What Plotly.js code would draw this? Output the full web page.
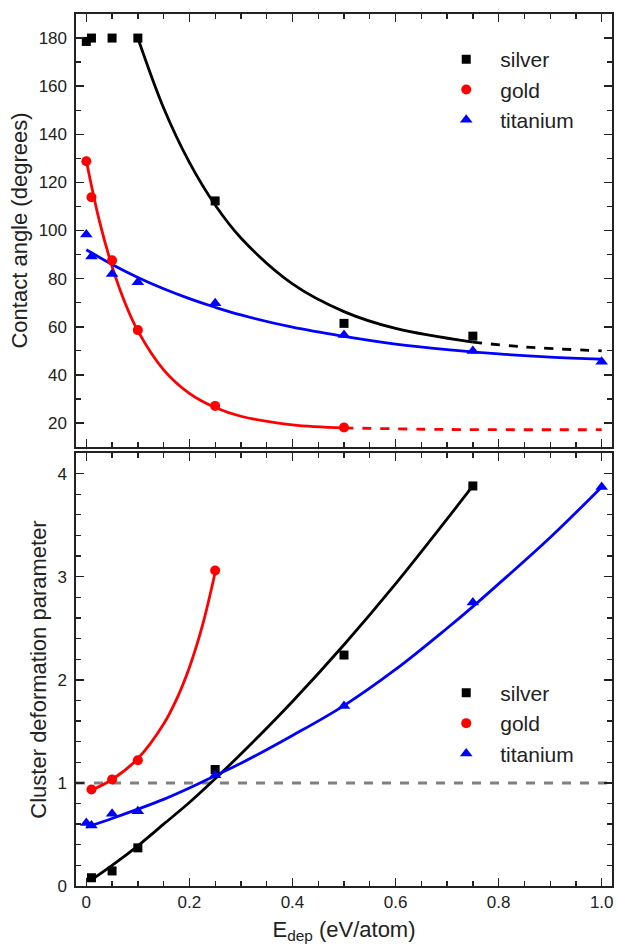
<!DOCTYPE html>
<html>
<head>
<meta charset="utf-8">
<script src="https://cdn.plot.ly/plotly-3.0.1.min.js"></script>
<style>html,body{margin:0;padding:0;background:#fff;}#chart{width:617px;height:952px;}</style>
</head>
<body>
<div id="chart"></div>
<script>
// ---------- Top panel: contact angle ----------
const edepAg = [0, 0.01, 0.05, 0.1, 0.25, 0.5, 0.75];
const angleAg = [178.6, 180, 180, 180, 112.3, 61.4, 56.1];
const edepAu = [0, 0.01, 0.05, 0.1, 0.25, 0.5];
const angleAu = [128.8, 113.8, 87.6, 58.6, 27.1, 18.1];
const edepTi = [0, 0.01, 0.05, 0.1, 0.25, 0.5, 0.75, 1.0];
const angleTi = [98.3, 89.2, 81.9, 78.5, 69.8, 56.6, 49.9, 45.4];

// fit curves
const fitAgX = [0.1, 0.15, 0.2, 0.25, 0.3, 0.4, 0.5, 0.6, 0.75];
const fitAgY = [180, 150.9, 128.3, 110.6, 96.9, 77.8, 66.3, 59.3, 53.6];
const fitAgDashX = [0.75, 0.85, 1.0];
const fitAgDashY = [53.6, 51.6, 50.0];
const fitAuX = [0, 0.025, 0.05, 0.075, 0.1, 0.15, 0.2, 0.25, 0.3, 0.4, 0.5];
const fitAuY = [129, 104.3, 85.1, 70.0, 58.3, 42.1, 32.3, 26.4, 22.8, 19.2, 17.95];
const fitAuDashX = [0.5, 0.7, 1.0];
const fitAuDashY = [17.95, 17.3, 17.2];
const fitTiX = [0, 0.05, 0.1, 0.15, 0.2, 0.25, 0.3, 0.4, 0.5, 0.6, 0.7, 0.8, 0.9, 1.0];
const fitTiY = [92, 85.9, 80.5, 75.8, 71.7, 68.1, 64.9, 59.8, 56.0, 52.8, 50.5, 48.7, 47.4, 46.5];

// ---------- Bottom panel: cluster deformation parameter ----------
const defAgX = [0.01, 0.05, 0.1, 0.25, 0.5, 0.75];
const defAgY = [0.08, 0.146, 0.37, 1.13, 2.24, 3.88];
const defAuX = [0.01, 0.05, 0.1, 0.25];
const defAuY = [0.936, 1.033, 1.22, 3.06];
const defTiX = [0, 0.01, 0.05, 0.1, 0.25, 0.5, 0.75, 1.0];
const defTiY = [0.61, 0.586, 0.70, 0.725, 1.075, 1.745, 2.75, 3.87];

const fitDefAgX = [0.01, 0.05, 0.1, 0.15, 0.2, 0.25, 0.3, 0.4, 0.5, 0.6, 0.75];
const fitDefAgY = [0.06, 0.2, 0.39, 0.6, 0.81, 1.04, 1.28, 1.79, 2.34, 2.93, 3.88];
const fitDefAuX = [0.01, 0.05, 0.1, 0.15, 0.175, 0.2, 0.225, 0.25];
const fitDefAuY = [0.93, 1.033, 1.236, 1.571, 1.81, 2.12, 2.52, 3.04];
const fitDefTiX = [0, 0.05, 0.1, 0.15, 0.2, 0.25, 0.3, 0.4, 0.5, 0.6, 0.7, 0.75, 0.8, 0.9, 1.0];
const fitDefTiY = [0.57, 0.655, 0.745, 0.84, 0.95, 1.07, 1.19, 1.46, 1.75, 2.1, 2.5, 2.71, 2.93, 3.38, 3.87];

const refX = [-0.02, 1.02];
const refY = [1, 1];

const names = ['silver', 'gold', 'titanium'];
const colors = ['#000000', '#ff0000', '#0000ff'];
const symbols = ['square', 'circle', 'triangle-up'];
const sizes = [9, 10, 11];
const xTickVals = [0, 0.2, 0.4, 0.6, 0.8, 1.0];
const xTickText = ['0', '0.2', '0.4', '0.6', '0.8', '1.0'];

function pts(x, y, i, xa, ya, leg) {
  return {x: x, y: y, xaxis: xa, yaxis: ya, type: 'scatter', mode: 'markers', name: names[i],
    legend: leg, marker: {color: colors[i], symbol: symbols[i], size: sizes[i]}};
}
function fit(x, y, i, xa, ya, dash) {
  return {x: x, y: y, xaxis: xa, yaxis: ya, type: 'scatter', mode: 'lines', showlegend: false,
    hoverinfo: 'skip', line: {color: colors[i], width: 2.8, shape: 'spline', dash: dash || 'solid'}};
}

const traces = [
  fit(fitAgX, fitAgY, 0, 'x', 'y'), fit(fitAgDashX, fitAgDashY, 0, 'x', 'y', 'dash'),
  fit(fitAuX, fitAuY, 1, 'x', 'y'), fit(fitAuDashX, fitAuDashY, 1, 'x', 'y', 'dash'),
  fit(fitTiX, fitTiY, 2, 'x', 'y'),
  pts(edepAg, angleAg, 0, 'x', 'y', 'legend'),
  pts(edepAu, angleAu, 1, 'x', 'y', 'legend'),
  pts(edepTi, angleTi, 2, 'x', 'y', 'legend'),
  {x: refX, y: refY, xaxis: 'x2', yaxis: 'y2', type: 'scatter', mode: 'lines', showlegend: false,
    line: {color: '#808080', width: 3, dash: 'dash'}},
  fit(fitDefAgX, fitDefAgY, 0, 'x2', 'y2'),
  fit(fitDefAuX, fitDefAuY, 1, 'x2', 'y2'),
  fit(fitDefTiX, fitDefTiY, 2, 'x2', 'y2'),
  pts(defAgX, defAgY, 0, 'x2', 'y2', 'legend2'),
  pts(defAuX, defAuY, 1, 'x2', 'y2', 'legend2'),
  pts(defTiX, defTiY, 2, 'x2', 'y2', 'legend2')
];

const font = 'Arial, "Liberation Sans", sans-serif';
const axCommon = {
  showline: true, linecolor: '#222', linewidth: 1.6, mirror: 'allticks',
  ticks: 'inside', ticklen: 8, tickwidth: 1.5, tickcolor: '#222',
  showgrid: false, zeroline: false,
  tickfont: {family: font, size: 17, color: '#222'}
};
const xCommon = Object.assign({}, axCommon, {
  range: [-0.02, 1.02], tickvals: xTickVals, ticktext: xTickText,
  minor: {dtick: 0.05, tick0: 0, ticks: 'inside', ticklen: 5, tickwidth: 1.3, tickcolor: '#222', showgrid: false}
});

const legendCommon = {xanchor: 'left', yanchor: 'top', bgcolor: 'rgba(0,0,0,0)',
  font: {family: font, size: 21, color: '#222'}, itemwidth: 58};

const layout = {
  width: 617, height: 952,
  margin: {l: 76, r: 5, t: 14, b: 66},
  paper_bgcolor: '#fff', plot_bgcolor: '#fff',
  font: {family: font, color: '#222'},
  showlegend: true,
  xaxis: Object.assign({}, xCommon, {anchor: 'y', showticklabels: false}),
  yaxis: Object.assign({}, axCommon, {
    domain: [0.5034, 1], anchor: 'x', range: [10, 190], tick0: 0, dtick: 20,
    ticklabelstandoff: 4,
    minor: {dtick: 10, tick0: 0, ticks: 'inside', ticklen: 5, tickwidth: 1.3, tickcolor: '#222', showgrid: false},
    title: {text: 'Contact angle (degrees)', font: {family: font, size: 22, color: '#222'}, standoff: 5}
  }),
  xaxis2: Object.assign({}, xCommon, {anchor: 'y2',
    title: {text: 'E<sub>dep</sub> (eV/atom)', font: {family: font, size: 22, color: '#222'}, standoff: 10}
  }),
  yaxis2: Object.assign({}, axCommon, {
    domain: [0, 0.4966], anchor: 'x2', range: [0, 4.2], tick0: 0, dtick: 1,
    ticklabelstandoff: 4,
    minor: {dtick: 0.2, tick0: 0, ticks: 'inside', ticklen: 5, tickwidth: 1.3, tickcolor: '#222', showgrid: false},
    title: {text: 'Cluster deformation parameter', font: {family: font, size: 22, color: '#222'}, standoff: 5}
  }),
  legend: Object.assign({}, legendCommon, {x: 0.6646, y: 0.9713}),
  legend2: Object.assign({}, legendCommon, {x: 0.6646, y: 0.2446})
};

Plotly.newPlot('chart', traces, layout, {displayModeBar: false, staticPlot: true});
</script>
</body>
</html>
